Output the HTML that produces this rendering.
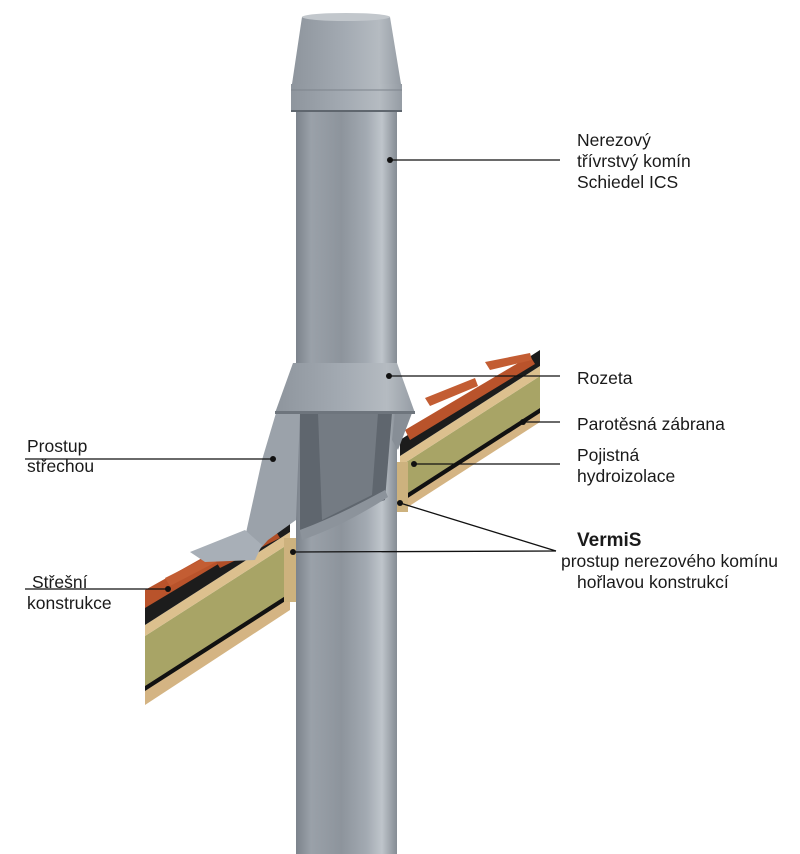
<!DOCTYPE html>
<html><head><meta charset="utf-8"><style>
html,body{margin:0;padding:0;background:#fff}
svg{display:block}
text{font-family:"Liberation Sans",sans-serif;font-size:17.5px;fill:#1a1a1a}
</style></head><body>
<svg width="800" height="854" viewBox="0 0 800 854">
<defs>
<linearGradient id="pipe" x1="0" x2="1">
<stop offset="0" stop-color="#7c838c"/><stop offset="0.15" stop-color="#9aa1a9"/>
<stop offset="0.45" stop-color="#8d949c"/><stop offset="0.7" stop-color="#a3aab2"/>
<stop offset="0.85" stop-color="#bfc5cb"/><stop offset="1" stop-color="#858c94"/>
</linearGradient>
<linearGradient id="cone" x1="0" x2="1">
<stop offset="0" stop-color="#8e959d"/><stop offset="0.5" stop-color="#a4abb3"/>
<stop offset="0.8" stop-color="#b5bbc1"/><stop offset="1" stop-color="#959ca4"/>
</linearGradient>
</defs>

<g>
<polygon points="145,640 290,547 290,610 145,705" fill="#d4b483"/>
<polygon points="145,636 290,543 290,593 145,686" fill="#a8a466"/>
<polygon points="145,686 290,593 290,598 145,691" fill="#111"/>
<polygon points="145,625 290,532 290,543 145,636" fill="#dcc08e"/>
<polygon points="145,603 290,510 290,532 145,625" fill="#1c1c1c"/>
<polygon points="145,590 270,520 275,530 145,608" fill="#b9532b"/>
<polygon points="165,578 215,553 220,560 170,586" fill="#c35d33"/>
<polygon points="215,560 275,530 280,538 220,568" fill="#b14e27"/>
</g>
<g>
<polygon points="400,470 540,380 540,422 400,512" fill="#d4b483"/>
<polygon points="400,466 540,376 540,408 400,498" fill="#a8a466"/>
<polygon points="400,498 540,408 540,413 400,503" fill="#111"/>
<polygon points="400,456 540,366 540,376 400,466" fill="#dcc08e"/>
<polygon points="400,440 540,350 540,366 400,456" fill="#1c1c1c"/>
<polygon points="405,430 530,356 535,364 410,440" fill="#b9532b"/>
<polygon points="485,362 530,353 532,360 490,370" fill="#c35d33"/>
<polygon points="425,398 475,378 478,386 430,406" fill="#c35d33"/>
</g>
<rect x="284" y="538" width="14" height="64" fill="#cdb27e"/>
<rect x="396" y="462" width="12" height="50" fill="#cdb27e"/>

<rect x="296" y="100" width="101" height="754" fill="url(#pipe)"/>
<polygon points="300,413 392,413 385,500 300,530" fill="#5f666e"/>
<polygon points="318,413 378,413 372,495 322,520" fill="#747b83"/>
<path d="M300,530 Q340,515 385,490 L388,497 Q345,525 302,540 Z" fill="#8c939b"/>

<polygon points="276,413 300,413 296,520 268,540 252,558 240,560 262,460" fill="#9ba2aa"/>
<polygon points="190,552 245,530 262,545 255,560 205,562" fill="#a8afb7"/>
<polygon points="395,413 412,413 398,450 392,440" fill="#878e96"/>

<polygon points="293,363 397,363 415,413 275,413" fill="url(#cone)"/>
<rect x="275" y="411" width="140" height="3" fill="#6e757d"/>

<polygon points="302,17 390,17 401,84 292,84" fill="url(#cone)"/>
<ellipse cx="346" cy="17" rx="44" ry="4" fill="#c2c7cc"/>
<rect x="291" y="84" width="111" height="28" fill="url(#cone)"/>
<line x1="291" y1="90" x2="402" y2="90" stroke="#7d848c"/>
<line x1="291" y1="111" x2="402" y2="111" stroke="#5f666e" stroke-width="2"/>

<g stroke="#111" stroke-width="1.3" fill="none">
<line x1="390" y1="160" x2="560" y2="160"/>
<line x1="389" y1="376" x2="560" y2="376"/>
<line x1="523" y1="422" x2="560" y2="422"/>
<line x1="414" y1="464" x2="560" y2="464"/>
<line x1="400" y1="503" x2="556" y2="551"/>
<line x1="293" y1="552" x2="556" y2="551"/>
<line x1="25" y1="459" x2="273" y2="459"/>
<line x1="25" y1="589" x2="168" y2="589"/>
</g>
<g fill="#111">
<circle cx="390" cy="160" r="3"/><circle cx="389" cy="376" r="3"/>
<circle cx="523" cy="422" r="3"/><circle cx="414" cy="464" r="3"/>
<circle cx="400" cy="503" r="3"/><circle cx="293" cy="552" r="3"/>
<circle cx="273" cy="459" r="3"/><circle cx="168" cy="589" r="3"/>
</g>

<text x="577" y="146">Nerezový</text>
<text x="577" y="167">třívrstvý komín</text>
<text x="577" y="188">Schiedel ICS</text>
<text x="577" y="384">Rozeta</text>
<text x="577" y="430">Parotěsná zábrana</text>
<text x="577" y="461">Pojistná</text>
<text x="577" y="482">hydroizolace</text>
<text x="577" y="546" style="font-weight:bold;font-size:19px">VermiS</text>
<text x="561" y="567">prostup nerezového komínu</text>
<text x="577" y="588">hořlavou konstrukcí</text>
<text x="27" y="452">Prostup</text>
<text x="27" y="472">střechou</text>
<text x="32" y="588">Střešní</text>
<text x="27" y="609">konstrukce</text>
</svg>
</body></html>
